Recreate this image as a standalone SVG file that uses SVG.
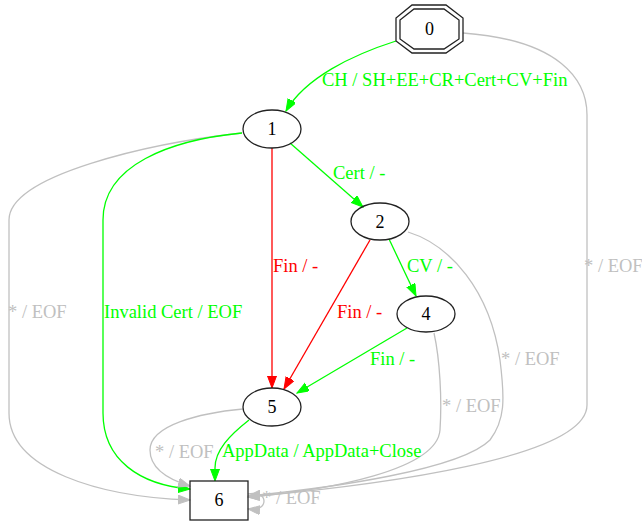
<svg xmlns="http://www.w3.org/2000/svg" width="642" height="521" viewBox="0 0 642 521">
<style>
text{font-family:"Liberation Serif","Times New Roman",serif;font-size:18.5px}
.n{fill:none;stroke:#222;stroke-width:1.3}
.nl{fill:#000;text-anchor:middle;font-size:18px}
.e{fill:none;stroke-width:1.3}
.g{stroke:#00ff00}
.r{stroke:#ff0000}
.s{stroke:#c0c0c0}
.tg{fill:#00ff00}
.tr{fill:#ff0000}
.ts{fill:#c0c0c0}
</style>
<defs>
<marker id="ag" markerUnits="userSpaceOnUse" markerWidth="13" markerHeight="10" refX="12" refY="4.5" orient="auto"><path d="M0,0 L12,4.5 L0,9 z" fill="#00ff00" stroke="#00ff00"/></marker>
<marker id="ar" markerUnits="userSpaceOnUse" markerWidth="13" markerHeight="10" refX="12" refY="4.5" orient="auto"><path d="M0,0 L12,4.5 L0,9 z" fill="#ff0000" stroke="#ff0000"/></marker>
<marker id="as" markerUnits="userSpaceOnUse" markerWidth="13" markerHeight="10" refX="12" refY="4.5" orient="auto"><path d="M0,0 L12,4.5 L0,9 z" fill="#c0c0c0" stroke="#c0c0c0"/></marker>
</defs>
<rect width="642" height="521" fill="#fff"/>
<g id="edges">
<path class="e g" marker-end="url(#ag)" d="M396,41 C352,55 305,78 286,111"/>
<text class="tg" x="322" y="86">CH / SH+EE+CR+Cert+CV+Fin</text>
<path class="e s" marker-end="url(#as)" d="M463,33 C560,40 587,80 587,115 L587,405 C587,458 380,485 248,497"/>
<text class="ts" x="584" y="272">* / EOF</text>
<path class="e g" marker-end="url(#ag)" d="M290,143 L363,207"/>
<text class="tg" x="333" y="179">Cert / -</text>
<path class="e s" marker-end="url(#as)" d="M242,133 C150,143 9,175 9,220 L9,413 C9,470 100,497 190,500"/>
<text class="ts" x="8" y="318">* / EOF</text>
<path class="e g" marker-end="url(#ag)" d="M242,133 C170,140 103,165 103,220 L103,413 C103,460 140,485 190,489"/>
<text class="tg" x="104" y="318">Invalid Cert / EOF</text>
<path class="e r" marker-end="url(#ar)" d="M272,148 L272,388"/>
<text class="tr" x="273" y="272">Fin / -</text>
<path class="e g" marker-end="url(#ag)" d="M389,239 L416,296"/>
<text class="tg" x="407" y="272">CV / -</text>
<path class="e r" marker-end="url(#ar)" d="M370,240 L284,389"/>
<text class="tr" x="337" y="318">Fin / -</text>
<path class="e s" marker-end="url(#as)" d="M408,232 C450,245 490,290 500,360 C505,400 505,420 490,440 C460,470 330,488 248,496"/>
<text class="ts" x="501" y="365">* / EOF</text>
<path class="e g" marker-end="url(#ag)" d="M407,328 L297,393"/>
<text class="tg" x="370" y="365">Fin / -</text>
<path class="e s" marker-end="url(#as)" d="M434,333 C440,360 442,400 440,430 C437,470 330,490 248,497"/>
<text class="ts" x="442" y="412">* / EOF</text>
<path class="e s" marker-end="url(#as)" d="M243,409 C200,413 150,425 150,450 C150,470 170,480 190,486"/>
<text class="ts" x="155" y="458">* / EOF</text>
<path class="e g" marker-end="url(#ag)" d="M249,420 C230,435 215,450 215,468 L215,481"/>
<text class="tg" x="222" y="457">AppData / AppData+Close</text>
<path class="e s" marker-end="url(#as)" d="M248,494 C258,492 264,496 264,501 C264,507 258,510 248,509"/>
<text class="ts" x="262" y="504">* / EOF</text>
</g>
<g id="node0">
<polygon class="n" points="412,5 446,5 463,18 463,41 446,53 412,53 396,41 396,18"/>
<polygon class="n" points="414,9 444,9 459,20 459,39 444,49 414,49 400,39 400,20"/>
<text class="nl" x="429.5" y="35">0</text>
</g>
<g id="node1">
<ellipse class="n" cx="272" cy="129" rx="29" ry="19"/>
<text class="nl" x="272" y="135">1</text>
</g>
<g id="node2">
<ellipse class="n" cx="380" cy="221.5" rx="29" ry="18.5"/>
<text class="nl" x="380" y="227.5">2</text>
</g>
<g id="node4">
<ellipse class="n" cx="426" cy="314" rx="29" ry="18"/>
<text class="nl" x="426" y="320">4</text>
</g>
<g id="node5">
<ellipse class="n" cx="272" cy="407" rx="29" ry="19"/>
<text class="nl" x="272" y="413">5</text>
</g>
<g id="node6">
<rect class="n" x="190" y="481" width="58" height="39" stroke="#444"/>
<text class="nl" x="219" y="506">6</text>
</g>
</svg>
